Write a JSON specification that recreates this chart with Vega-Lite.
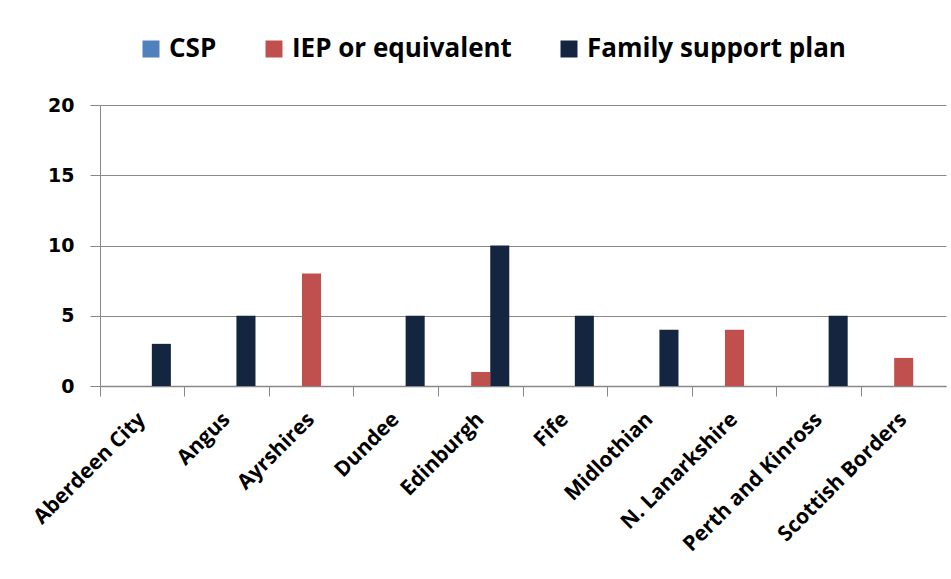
{
  "$schema": "https://vega.github.io/schema/vega-lite/v6.json",
  "autosize": "none",
  "width": 846,
  "height": 281,
  "padding": {"left": 100, "top": 105, "right": 5, "bottom": 193},
  "background": "white",
  "data": {
    "values": [
      {"area": "Aberdeen City", "plan": "CSP", "count": 0},
      {"area": "Aberdeen City", "plan": "IEP or equivalent", "count": 0},
      {"area": "Aberdeen City", "plan": "Family support plan", "count": 3},
      {"area": "Angus", "plan": "CSP", "count": 0},
      {"area": "Angus", "plan": "IEP or equivalent", "count": 0},
      {"area": "Angus", "plan": "Family support plan", "count": 5},
      {"area": "Ayrshires", "plan": "CSP", "count": 0},
      {"area": "Ayrshires", "plan": "IEP or equivalent", "count": 8},
      {"area": "Ayrshires", "plan": "Family support plan", "count": 0},
      {"area": "Dundee", "plan": "CSP", "count": 0},
      {"area": "Dundee", "plan": "IEP or equivalent", "count": 0},
      {"area": "Dundee", "plan": "Family support plan", "count": 5},
      {"area": "Edinburgh", "plan": "CSP", "count": 0},
      {"area": "Edinburgh", "plan": "IEP or equivalent", "count": 1},
      {"area": "Edinburgh", "plan": "Family support plan", "count": 10},
      {"area": "Fife", "plan": "CSP", "count": 0},
      {"area": "Fife", "plan": "IEP or equivalent", "count": 0},
      {"area": "Fife", "plan": "Family support plan", "count": 5},
      {"area": "Midlothian", "plan": "CSP", "count": 0},
      {"area": "Midlothian", "plan": "IEP or equivalent", "count": 0},
      {"area": "Midlothian", "plan": "Family support plan", "count": 4},
      {"area": "N. Lanarkshire", "plan": "CSP", "count": 0},
      {"area": "N. Lanarkshire", "plan": "IEP or equivalent", "count": 4},
      {"area": "N. Lanarkshire", "plan": "Family support plan", "count": 0},
      {"area": "Perth and Kinross", "plan": "CSP", "count": 0},
      {"area": "Perth and Kinross", "plan": "IEP or equivalent", "count": 0},
      {"area": "Perth and Kinross", "plan": "Family support plan", "count": 5},
      {"area": "Scottish Borders", "plan": "CSP", "count": 0},
      {"area": "Scottish Borders", "plan": "IEP or equivalent", "count": 2},
      {"area": "Scottish Borders", "plan": "Family support plan", "count": 0}
    ]
  },
  "mark": {"type": "bar"},
  "encoding": {
    "x": {
      "field": "area",
      "type": "nominal",
      "sort": null,
      "scale": {"paddingInner": 0, "paddingOuter": 0},
      "axis": {
        "title": null,
        "labelAngle": -45,
        "labelAlign": "right",
        "labelBaseline": "middle",
        "labelFont": "Open Sans",
        "labelFontWeight": "bold",
        "labelFontSize": 21,
        "labelColor": "black",
        "labelPadding": 20,
        "labelLimit": 300,
        "bandPosition": 0,
        "tickSize": 10,
        "tickColor": "#888888",
        "domainColor": "#888888",
        "domainWidth": 1.5,
        "grid": false
      }
    },
    "xOffset": {
      "field": "plan",
      "type": "nominal",
      "sort": ["CSP", "IEP or equivalent", "Family support plan"],
      "scale": {"paddingInner": 0, "paddingOuter": 0.72}
    },
    "y": {
      "field": "count",
      "type": "quantitative",
      "scale": {"domain": [0, 20], "nice": false},
      "axis": {
        "title": null,
        "values": [0, 5, 10, 15, 20],
        "labelFont": "DejaVu Sans",
        "labelFontWeight": "bold",
        "labelFontSize": 19,
        "labelColor": "black",
        "labelPadding": 16,
        "tickSize": 10,
        "tickColor": "#888888",
        "domainColor": "#888888",
        "gridColor": "#888888",
        "gridWidth": 1
      }
    },
    "color": {
      "field": "plan",
      "type": "nominal",
      "sort": ["CSP", "IEP or equivalent", "Family support plan"],
      "scale": {
        "domain": ["CSP", "IEP or equivalent", "Family support plan"],
        "range": ["#4F81BD", "#C0504D", "#14263F"]
      },
      "legend": {
        "title": null,
        "orient": "none",
        "direction": "horizontal",
        "legendX": 38,
        "legendY": -69,
        "symbolType": "square",
        "symbolSize": 289,
        "symbolStrokeWidth": 0,
        "labelFont": "Open Sans",
        "labelFontWeight": "bold",
        "labelFontSize": 26,
        "labelColor": "black",
        "labelLimit": 400,
        "labelOffset": 5,
        "columnPadding": 44,
        "symbolOffset": 0
      }
    }
  },
  "config": {
    "view": {"stroke": null}
  }
}
